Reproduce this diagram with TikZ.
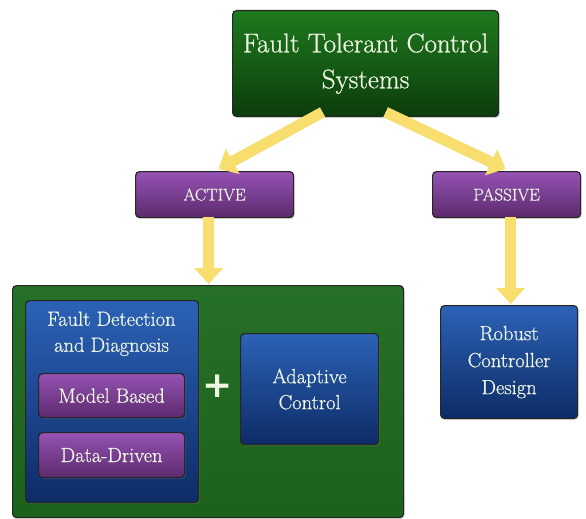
\documentclass[tikz,border=0pt]{standalone}
\usepackage{fontspec}
\setmainfont{Latin Modern Roman}[FakeBold=0.7]
\newfontfamily\plusfont{DejaVu Sans}
\usetikzlibrary{arrows.meta,shadows}
\definecolor{txt}{HTML}{EEF6E4}
\definecolor{arrowy}{HTML}{F7DE6E}
\definecolor{ptop}{HTML}{9552B4}
\definecolor{pbot}{HTML}{5C2A6C}
\definecolor{gtop}{HTML}{1F7A1F}
\definecolor{gbot}{HTML}{0B3C0B}
\definecolor{btop}{HTML}{2C62B6}
\definecolor{bbot}{HTML}{0D2B66}
\definecolor{bigg}{HTML}{1E6A1E}
\tikzset{
  base/.style={draw=black!85, line width=1.2pt, rounded corners=4pt, text=txt, align=center, anchor=north west, inner sep=0pt,
    drop shadow={opacity=0.25, shadow xshift=1.5pt, shadow yshift=-1.5pt}},
  greenbox/.style={base, top color=gtop, bottom color=gbot},
  purplebox/.style={base, top color=ptop, bottom color=pbot},
  bluebox/.style={base, top color=btop, bottom color=bbot},
  bigbox/.style={base, top color=bigg!96!white, bottom color=bigg!92!black},
  yarrow/.style={draw=arrowy, line width=11pt, -{Triangle[width=28pt,length=16pt]}},
}
\begin{document}
\begin{tikzpicture}[x=1pt,y=-1pt]
\useasboundingbox (0,0) rectangle (586,519);
% boxes
\node[greenbox, minimum width=266pt, minimum height=106pt, font=\fontsize{27}{36}\selectfont] (fts) at (232,10) {Fault Tolerant Control\\Systems};
\node[purplebox, minimum width=158pt, minimum height=46pt, font=\fontsize{17}{18}\selectfont] (act) at (135,171) {ACTIVE};
\node[purplebox, minimum width=148pt, minimum height=46pt, font=\fontsize{17}{18}\selectfont] (pas) at (432,171) {PASSIVE};
\node[bigbox, minimum width=391pt, minimum height=232pt] (big) at (12,285) {};
\node[bluebox, minimum width=173pt, minimum height=202pt] (fdd) at (25,300) {};
\node[text=txt, font=\fontsize{20.5}{26}\selectfont, align=center, anchor=north] (fddt) at (111.5,308) {Fault Detection\\and Diagnosis};
\node[purplebox, minimum width=146pt, minimum height=44pt, font=\fontsize{20.5}{22}\selectfont] (mb) at (38,373) {Model Based};
\node[purplebox, minimum width=146pt, minimum height=45pt, font=\fontsize{20.5}{22}\selectfont] (dd) at (38,432) {Data-Driven};
\node[text=txt, font=\plusfont\bfseries\fontsize{36}{36}\selectfont] (plus) at (218,386) {+};
\node[bluebox, minimum width=138pt, minimum height=111pt, font=\fontsize{20.5}{26}\selectfont] (ac) at (240,333) {Adaptive\\Control};
\node[bluebox, minimum width=137pt, minimum height=113pt, font=\fontsize{20.5}{27}\selectfont] (rcd) at (440,305) {Robust\\Controller\\Design};
% arrows
\draw[yarrow] ([xshift=-43pt,yshift=5pt]fts.south) -- ([xshift=4pt,yshift=2pt]act.north);
\draw[yarrow] ([xshift=20pt,yshift=5pt]fts.south) -- ([xshift=-1pt,yshift=2pt]pas.north);
\draw[yarrow] ([xshift=-6pt,yshift=1pt]act.south) -- ([xshift=-6pt,yshift=1pt]act.south |- big.north);
\draw[yarrow] ([xshift=4pt,yshift=1pt]pas.south) -- ([xshift=4pt,yshift=1pt]pas.south |- rcd.north);
\end{tikzpicture}
\end{document}
